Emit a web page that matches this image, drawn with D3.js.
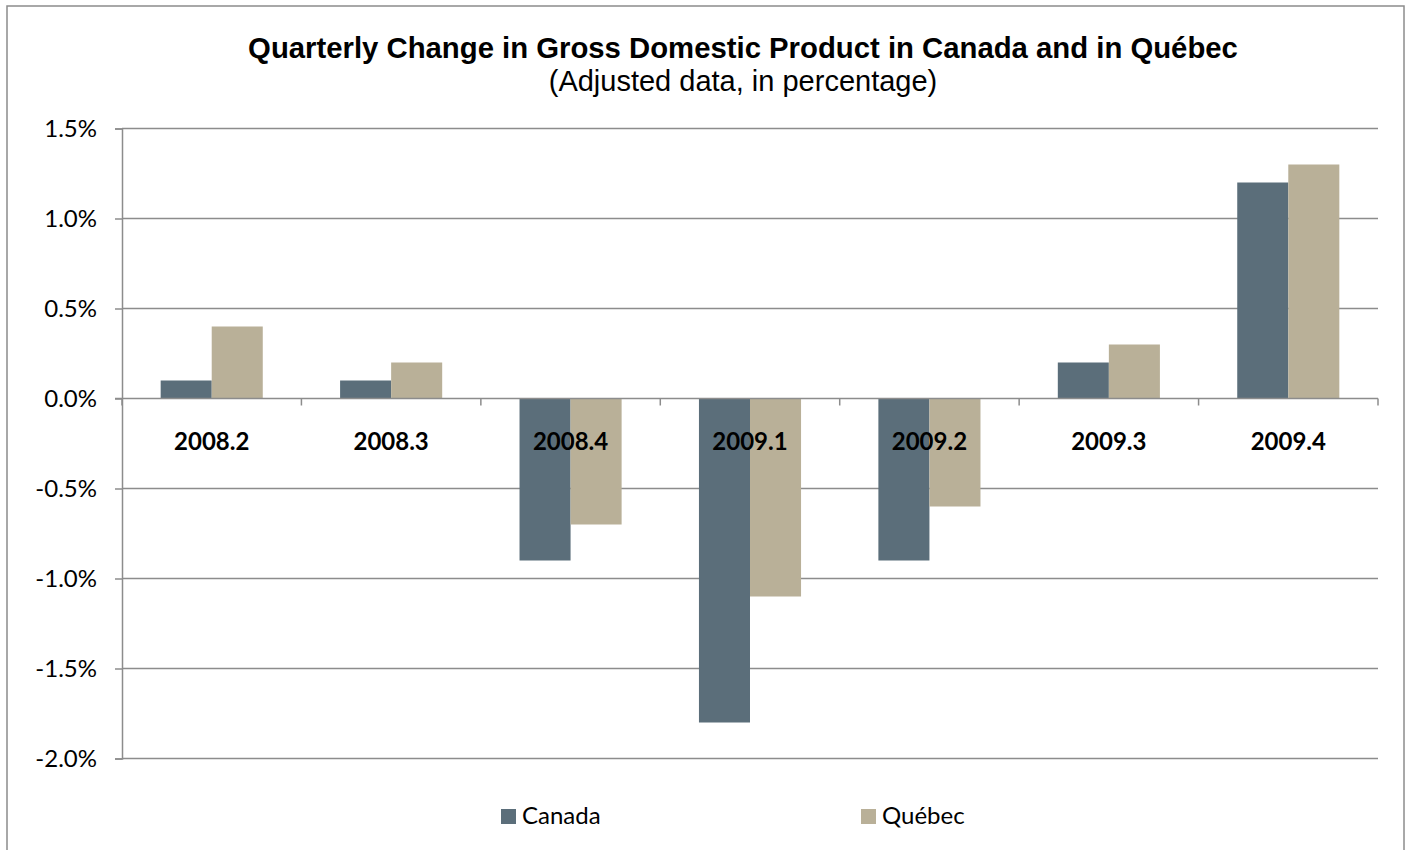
<!DOCTYPE html>
<html>
<head>
<meta charset="utf-8">
<script src="https://cdn.jsdelivr.net/npm/d3@7"></script>
<style>
    body { margin: 0; background: #fff; }
    svg { display: block; }
</style>
</head>
<body>
<div id="showBox"></div>
<script>
// quarters on the x axis
const quarters = ["2008.2", "2008.3", "2008.4", "2009.1", "2009.2", "2009.3", "2009.4"]
const seriesNames = ["Canada", "Québec"]
// quarterly change, in %
const canada = [0.1, 0.1, -0.9, -1.8, -0.9, 0.2, 1.2]
const quebec = [0.4, 0.2, -0.7, -1.1, -0.6, 0.3, 1.3]
const yTicks = [-2.0, -1.5, -1.0, -0.5, 0.0, 0.5, 1.0, 1.5]

const colors = {"Canada": "#5b6e7a", "Québec": "#b9b098"}
const gridColor = "#8c8c8c"
const labelFont = "Lato, 'Open Sans', sans-serif"

const width = 1410, height = 850
const plot = {left: 122, right: 1378, top: 128.5, bottom: 758.5}

const rows = quarters.map((q, i) => ({quarter: q, values: [
    {name: "Canada", value: canada[i]},
    {name: "Québec", value: quebec[i]}
]}))

const svg = d3.select("#showBox").append("svg")
    .attr("width", width)
    .attr("height", height)

svg.append("rect")
    .attr("x", 7).attr("y", 6)
    .attr("width", 1397).attr("height", 900)
    .attr("fill", "#fff")
    .attr("stroke", "#8c8c8c")
    .attr("stroke-width", 1.5)

const x = d3.scaleBand()
    .domain(quarters)
    .range([plot.left, plot.right])
    .paddingInner(0.431)
    .paddingOuter(0.2155)

const x1 = d3.scaleBand()
    .domain(seriesNames)
    .range([0, x.bandwidth()])

const y = d3.scaleLinear()
    .domain([-2, 1.5])
    .range([plot.bottom, plot.top])

// title
svg.append("text")
    .attr("x", 743).attr("y", 58)
    .attr("text-anchor", "middle")
    .attr("font-family", "'Liberation Sans', Arial, sans-serif")
    .attr("font-weight", "bold")
    .attr("font-size", 29.3)
    .text("Quarterly Change in Gross Domestic Product in Canada and in Québec")

svg.append("text")
    .attr("x", 743).attr("y", 91)
    .attr("text-anchor", "middle")
    .attr("font-family", "'Liberation Sans', Arial, sans-serif")
    .attr("font-size", 29)
    .text("(Adjusted data, in percentage)")

// gridlines
svg.append("g")
    .selectAll("line")
    .data(yTicks.filter(d => d !== 0))
    .join("line")
    .attr("x1", plot.left).attr("x2", plot.right)
    .attr("y1", d => y(d)).attr("y2", d => y(d))
    .attr("stroke", gridColor)
    .attr("stroke-width", 1.5)

// bars
svg.append("g")
    .selectAll("g")
    .data(rows)
    .join("g")
    .attr("transform", d => `translate(${x(d.quarter)},0)`)
    .selectAll("rect")
    .data(d => d.values)
    .join("rect")
    .attr("x", d => x1(d.name))
    .attr("width", x1.bandwidth())
    .attr("y", d => y(Math.max(0, d.value)))
    .attr("height", d => Math.abs(y(d.value) - y(0)))
    .attr("fill", d => colors[d.name])

// left axis, hyphen minus like the original
const pct = d => d.toFixed(1) + "%"
const yAxis = svg.append("g")
    .attr("transform", `translate(${plot.left},0)`)
    .call(d3.axisLeft(y).tickValues(yTicks).tickSize(7).tickPadding(18).tickFormat(pct))
yAxis.select(".domain").attr("stroke", gridColor).attr("stroke-width", 1.5)
yAxis.selectAll(".tick line").attr("stroke", gridColor).attr("stroke-width", 1.5)
yAxis.selectAll(".tick text")
    .attr("font-family", labelFont)
    .attr("font-size", 24)
    .attr("fill", "#000")

// zero axis with category ticks
const zero = svg.append("g").attr("transform", `translate(0,${y(0)})`)
zero.append("line")
    .attr("x1", plot.left - 7).attr("x2", plot.right)
    .attr("stroke", gridColor).attr("stroke-width", 1.5)
const step = x.step()
zero.selectAll(".qtick")
    .data(d3.range(quarters.length + 1))
    .join("line")
    .attr("class", "qtick")
    .attr("x1", i => plot.left + i * step).attr("x2", i => plot.left + i * step)
    .attr("y1", 0).attr("y2", 7)
    .attr("stroke", gridColor).attr("stroke-width", 1.5)

// category labels
svg.append("g")
    .selectAll("text")
    .data(quarters)
    .join("text")
    .attr("x", d => x(d) + x.bandwidth() / 2)
    .attr("y", 450)
    .attr("text-anchor", "middle")
    .attr("font-family", labelFont)
    .attr("font-weight", "bold")
    .attr("font-size", 24)
    .text(d => d)

// legend
const legendX = [501, 861]
const legend = svg.append("g")
    .selectAll("g")
    .data(seriesNames)
    .join("g")
    .attr("transform", (d, i) => `translate(${legendX[i]},809)`)
legend.append("rect")
    .attr("width", 15).attr("height", 15)
    .attr("fill", d => colors[d])
legend.append("text")
    .attr("x", 21).attr("y", 15)
    .attr("font-family", labelFont)
    .attr("font-size", 24)
    .text(d => d)
</script>
</body>
</html>
